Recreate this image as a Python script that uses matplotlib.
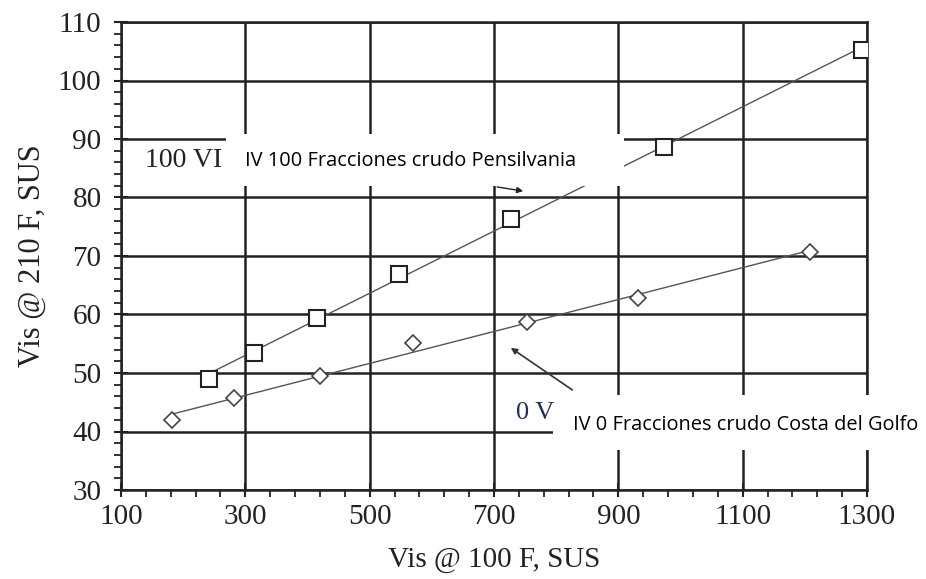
import numpy as np
import matplotlib
matplotlib.use("Agg")
import matplotlib.pyplot as plt
from matplotlib.patches import Rectangle

# ---- data ----
penn_x = [241, 314, 415, 547, 728, 973, 1292]
penn_y = [49.0, 53.5, 59.4, 66.9, 76.4, 88.7, 105.2]
golfo_x = [182, 281, 420, 570, 753, 932, 1209]
golfo_y = [41.9, 45.8, 49.5, 55.1, 58.8, 62.8, 70.7]
x_ticks = [100, 300, 500, 700, 900, 1100, 1300]
y_ticks = [30, 40, 50, 60, 70, 80, 90, 100, 110]
x_label = "Vis @ 100 F, SUS"
y_label = "Vis @ 210 F, SUS"
label_penn = "IV 100 Fracciones crudo Pensilvania"
label_golfo = "IV 0 Fracciones crudo Costa del Golfo"
tag_penn = "100 VI"
tag_golfo = "0 V"

serif = "Liberation Serif"
sans = "Open Sans"
ink = "#222222"

fig = plt.figure(figsize=(9.26, 5.79), dpi=100)
ax = fig.add_axes([121/926, 1-490/579, (867-121)/926, (490-22)/579])
ax.set_xlim(100, 1300)
ax.set_ylim(30, 110)

ax.set_xticks(x_ticks)
ax.set_yticks(y_ticks)
ax.set_xticks(np.arange(100, 1301, 40), minor=True)
ax.set_yticks(np.arange(30, 111, 2), minor=True)
ax.grid(True, which="major", color=ink, linewidth=1.8, zorder=1)
ax.set_axisbelow(True)
for s in ax.spines.values():
    s.set_color(ink)
    s.set_linewidth(1.8)
ax.tick_params(which="major", direction="inout", length=10, width=1.5, color=ink,
               labelsize=21, labelcolor=ink)
ax.tick_params(axis="y", which="major", pad=9)
ax.tick_params(axis="x", which="major", pad=5)
ax.tick_params(which="minor", direction="out", length=5, width=1.3, color=ink)
for lab in ax.get_xticklabels() + ax.get_yticklabels():
    lab.set_fontfamily(serif)

ax.set_xlabel(x_label, fontfamily=serif, fontsize=21, color=ink, labelpad=12)
ax.set_ylabel(y_label, fontfamily=serif, fontsize=22, color=ink, labelpad=8)

# fitted lines
for xs, ys in ((penn_x, penn_y), (golfo_x, golfo_y)):
    xs = np.asarray(xs, float); ys = np.asarray(ys, float)
    m, b = np.polyfit(xs, ys, 1)
    xx = np.array([xs.min(), xs.max()])
    ax.plot(xx, m*xx + b, color="#555555", linewidth=1.0, zorder=3)

ax.plot(penn_x, penn_y, linestyle="none", marker="s", markersize=12,
        markerfacecolor="white", markeredgecolor=ink, markeredgewidth=1.5, zorder=4)
ax.plot(golfo_x, golfo_y, linestyle="none", marker="D", markersize=8,
        markerfacecolor="white", markeredgecolor="#444444", markeredgewidth=1.2, zorder=4)

# white label boxes
ax.add_patch(Rectangle((269, 82.0), 909-269, 90.85-82.0, facecolor="white",
                       edgecolor="none", zorder=5))
ax.add_patch(Rectangle((795, 36.8), 1400-795, 46.2-36.8, facecolor="white",
                       edgecolor="none", zorder=5, clip_on=False))

ax.text(201, 86.4, tag_penn, fontfamily=serif, fontsize=20, color=ink,
        ha="center", va="center", zorder=6)
ax.text(766, 43.2, tag_golfo, fontfamily=serif, fontsize=19, color="#1f2f55",
        ha="center", va="center", zorder=6)
ax.text(300, 86.2, label_penn, fontfamily=sans, fontsize=14.4, color="black",
        ha="left", va="center", zorder=6)
ax.text(827, 41.1, label_golfo, fontfamily=sans, fontsize=14.4, color="black",
        ha="left", va="center", zorder=6, clip_on=False)

ax.annotate("", xy=(747, 81.1), xytext=(705, 81.8),
            arrowprops=dict(arrowstyle="-|>", color=ink, lw=1.0,
                            mutation_scale=9, shrinkA=0, shrinkB=0), zorder=6)
ax.annotate("", xy=(727, 54.3), xytext=(826, 47.1),
            arrowprops=dict(arrowstyle="-|>", color="#333333", lw=1.2,
                            mutation_scale=9, shrinkA=0, shrinkB=0), zorder=6)

fig.savefig("out.png", dpi=100)
